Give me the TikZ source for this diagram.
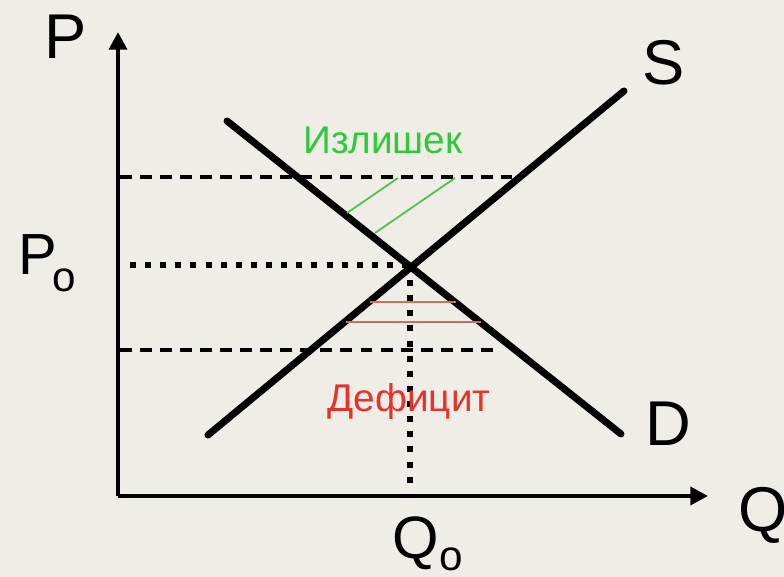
\documentclass[tikz,border=0pt]{standalone}
\usepackage{fontspec}
\setmainfont{Liberation Sans}
\usetikzlibrary{arrows.meta,positioning,calc}
\definecolor{paperbg}{HTML}{EFEDE6}
\definecolor{surplusgreen}{HTML}{2FC93A}
\definecolor{shortred}{HTML}{E3342B}
\definecolor{hatchgreen}{HTML}{4CC24C}
\definecolor{hatchred}{HTML}{C9705F}
\newcommand{\biglabel}{\fontsize{18}{20}\selectfont}
\newcommand{\zerosub}[2]{{\fontsize{#1}{#1}\selectfont #2}}
\tikzset{
  axisline/.style={line width=1.3pt,-{Triangle[length=5pt,width=5pt]}},
  curveline/.style={line width=2pt,line cap=round},
  priceline/.style={line width=0.9pt,dash pattern=on 3.4pt off 2.3pt},
  eqline/.style={line width=1.7pt,dash pattern=on 1.7pt off 2.6pt},
  hatch/.style={line width=0.5pt},
  axislabel/.style={font=\biglabel,inner sep=0pt},
  arealabel/.style={font=\fontsize{11}{13}\selectfont,inner sep=0pt}
}

\begin{document}
\begin{tikzpicture}[x=0.01cm,y=-0.01cm]
  \fill[paperbg] (0,0) rectangle (784,577);
  \useasboundingbox (0,0) rectangle (784,577);

  % axes
  \coordinate (origin) at (118,496);
  \coordinate (ptop) at (118,32);
  \coordinate (qend) at (708,496);
  \draw[axisline] (origin) -- (ptop);
  \draw[axisline] (origin) -- (qend);

  % supply and demand
  \coordinate (s1) at (208,435);
  \coordinate (s2) at (624,91);
  \coordinate (d1) at (227,121);
  \coordinate (d2) at (621,434);
  \coordinate (eq) at (410,265);
  \draw[curveline] (s1) -- (s2);
  \draw[curveline] (d1) -- (d2);

  % price levels
  \coordinate (hi1) at (120,177);
  \coordinate (hi2) at (512,177);
  \coordinate (lo1) at (120,350);
  \coordinate (lo2) at (498,350);
  \draw[priceline] (hi1) -- (hi2);
  \draw[priceline] (lo1) -- (lo2);

  % equilibrium
  \coordinate (peq) at (130,265);
  \coordinate (qeq) at (410,490);
  \draw[eqline] (peq) -- (eq);
  \draw[eqline] (eq) -- (qeq);

  % surplus hatching
  \coordinate (g1a) at (347,213);
  \coordinate (g1b) at (398,178);
  \coordinate (g2a) at (375,233);
  \coordinate (g2b) at (455,178);
  \draw[hatch,hatchgreen] (g1a) -- (g1b);
  \draw[hatch,hatchgreen] (g2a) -- (g2b);

  % shortage hatching
  \coordinate (r1a) at (370,302);
  \coordinate (r1b) at (456,302);
  \coordinate (r2a) at (346,322);
  \coordinate (r2b) at (481,322);
  \draw[hatch,hatchred] (r1a) -- (r1b);
  \draw[hatch,hatchred] (r2a) -- (r2b);

  % labels
  \node[axislabel] (plabel) at (66,37) {P};
  \node[axislabel] (qlabel) at (763,515) {Q};
  \node[axislabel] (slabel) at (664,63) {S};
  \node[axislabel] (dlabel) at (668,424) {D};
  \node[inner sep=0pt,anchor=base west] (p0label) at (18,275)
    {\zerosub{16.5}{P}\kern-1.5pt\raisebox{-4.8pt}{\zerosub{12}{o}}};
  \node[inner sep=0pt,anchor=base west] (q0label) at (392,559)
    {\zerosub{17}{Q}\raisebox{-3.4pt}{\zerosub{12}{o}}};
  \node[arealabel,text=surplusgreen] (surplus) at (383,140) {Излишек};
  \node[arealabel,text=shortred] (shortage) at (409,402) {Дефицит};
\end{tikzpicture}
\end{document}
